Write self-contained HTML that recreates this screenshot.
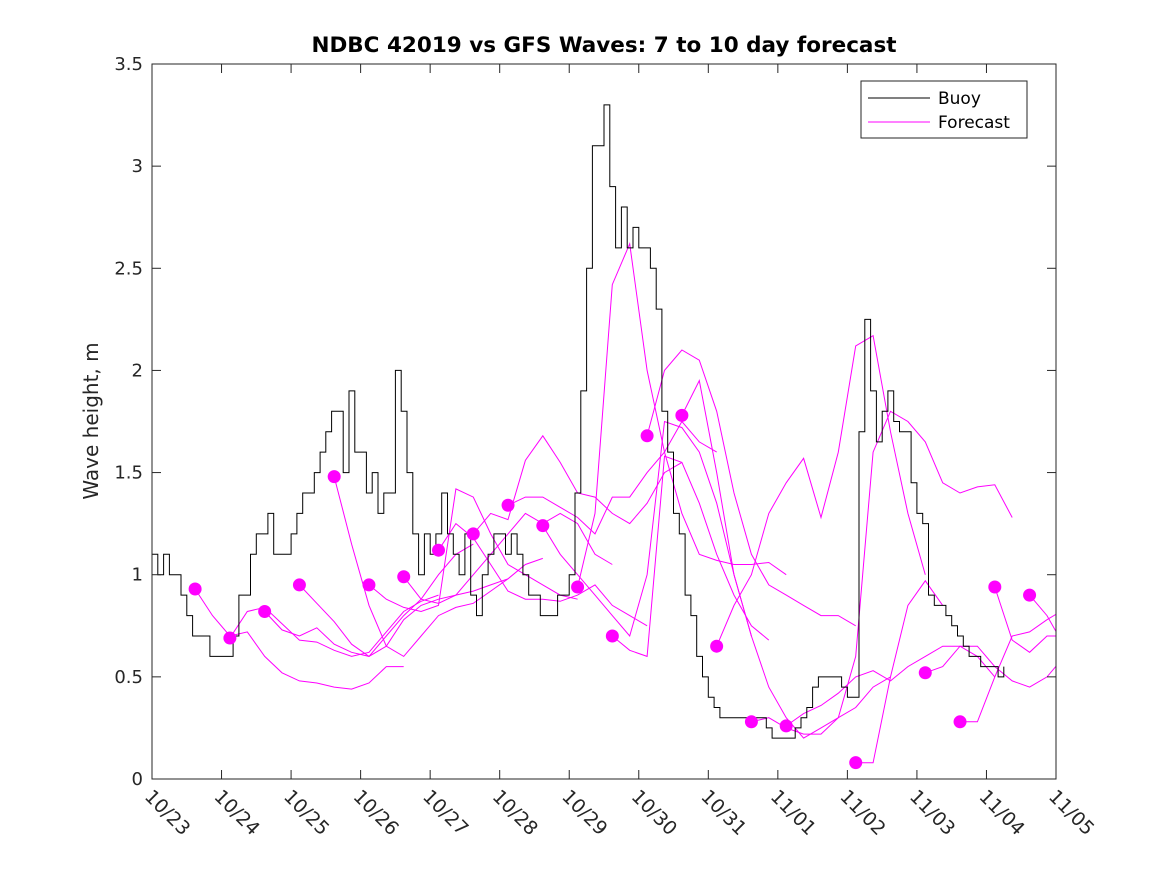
<!DOCTYPE html>
<html><head><meta charset="utf-8"><style>
html,body{margin:0;padding:0;background:#fff;}
svg{display:block;font-family:"DejaVu Sans","Liberation Sans",sans-serif;}
</style></head><body>
<svg id="chart" width="1167" height="875" viewBox="0 0 1167 875">
<rect x="0" y="0" width="1167" height="875" fill="#fff"/>
<text x="604" y="52" text-anchor="middle" font-size="21.5" font-weight="bold" fill="#000">NDBC 42019 vs GFS Waves: 7 to 10 day forecast</text>
<text transform="translate(98,421) rotate(-90)" text-anchor="middle" font-size="20" fill="#262626">Wave height, m</text>
<defs><clipPath id="pc"><rect x="152" y="64" width="904" height="715"/></clipPath></defs>
<g id="series" clip-path="url(#pc)"></g>
<g id="axes"></g>
<g>
<rect x="861" y="81" width="166" height="57" fill="#fff" stroke="#262626" stroke-width="1"/>
<line x1="868" y1="98" x2="930" y2="98" stroke="#000" stroke-width="1"/>
<text x="938" y="104" font-size="17" fill="#000">Buoy</text>
<line x1="868" y1="122" x2="930" y2="122" stroke="#ff00ff" stroke-width="1"/>
<text x="938" y="128" font-size="17" fill="#000">Forecast</text>
</g>
</svg>
<script>
const xTickLabels = ["10/23","10/24","10/25","10/26","10/27","10/28","10/29","10/30","10/31","11/01","11/02","11/03","11/04","11/05"];
const yTicks = [0,0.5,1,1.5,2,2.5,3,3.5];
const yTickLabels = ["0","0.5","1","1.5","2","2.5","3","3.5"];
// buoy readings every 2 hours from 10/23 00:00
const buoyStepHours = 2;
const buoyValues = [1.1,1.0,1.1,1.0,1.0,0.9,0.8,0.7,0.7,0.7,0.6,0.6,0.6,0.6,0.7,0.9,0.9,1.1,1.2,1.2,
1.3,1.1,1.1,1.1,1.2,1.3,1.4,1.4,1.5,1.6,1.7,1.8,1.8,1.5,1.9,1.6,1.6,1.4,1.5,1.3,
1.4,1.4,2.0,1.8,1.5,1.2,1.0,1.2,1.1,1.2,1.4,1.2,1.1,1.0,1.2,0.9,0.8,1.0,1.1,1.2,
1.2,1.1,1.2,1.1,1.0,0.9,0.9,0.8,0.8,0.8,0.9,0.9,1.0,1.4,1.9,2.5,3.1,3.1,3.3,2.9,
2.6,2.8,2.6,2.7,2.6,2.6,2.5,2.3,1.8,1.6,1.3,1.2,0.9,0.8,0.6,0.5,0.4,0.35,0.3,0.3,
0.3,0.3,0.3,0.3,0.3,0.3,0.25,0.2,0.2,0.2,0.2,0.25,0.3,0.35,0.45,0.5,0.5,0.5,0.5,0.45,
0.4,0.4,1.7,2.25,1.9,1.65,1.8,1.9,1.75,1.7,1.7,1.45,1.3,1.25,0.9,0.85,0.85,0.8,0.75,0.7,
0.65,0.6,0.6,0.55,0.55,0.55,0.5,0.55];
// forecasts: start day (days since 10/23) and 6-hourly values
const forecastStartDays = [0.62,1.12,1.62,2.12,2.62,3.12,3.62,4.12,4.62,5.12,5.62,6.12,6.62,7.12,7.62,8.12,8.62,9.12,10.12,11.12,11.62,12.12,12.62];
const forecastStepDays = 0.25;
const forecastValues = [
[0.93,0.80,0.70,0.72,0.60,0.52,0.48,0.47,0.45,0.44,0.47,0.55,0.55],
[0.69,0.82,0.84,0.76,0.68,0.67,0.63,0.60,0.62,0.72,0.82,0.87,0.90],
[0.82,0.73,0.70,0.74,0.66,0.62,0.60,0.70,0.80,0.88,1.0,1.1,1.15],
[0.95,0.86,0.77,0.66,0.60,0.65,0.78,0.85,0.88,0.9,0.92,0.95,0.98],
[1.48,1.15,0.85,0.65,0.60,0.70,0.80,0.84,0.86,0.92,0.98,1.05,1.08],
[0.95,0.88,0.84,0.82,0.85,1.42,1.38,1.2,1.05,1.0,0.95,0.9,0.88],
[0.99,0.88,0.86,0.90,1.0,1.1,1.2,1.3,1.25,1.3,1.25,1.1,1.05],
[1.12,1.25,1.18,1.05,0.92,0.88,0.88,0.87,0.90,0.95,0.85,0.80,0.75],
[1.20,1.30,1.27,1.56,1.68,1.55,1.40,1.38,1.30,1.25,1.35,1.50,1.55],
[1.34,1.38,1.38,1.33,1.28,1.20,1.38,1.38,1.50,1.60,1.75,1.65,1.60],
[1.24,1.10,1.00,0.90,0.80,0.70,1.0,1.75,1.72,1.60,1.35,1.0,0.7],
[0.94,1.3,2.42,2.62,2.0,1.6,1.3,1.1,1.07,1.05,1.05,1.06,1.0],
[0.70,0.63,0.60,1.58,1.55,1.35,1.1,0.9,0.75,0.68],
[1.68,2.0,2.1,2.05,1.8,1.4,1.1,0.95,0.9,0.85,0.8,0.8,0.75],
[1.78,1.95,1.5,1.0,0.7,0.45,0.3,0.2,0.25,0.3,0.35,0.45,0.5],
[0.65,0.85,1.0,1.3,1.45,1.57,1.28,1.6,2.12,2.17,1.7,1.3,1.0],
[0.28,0.30,0.25,0.22,0.22,0.30,0.6,1.6,1.8,1.75,1.65,1.45,1.40,1.43,1.44,1.28],
[0.26,0.32,0.36,0.42,0.50,0.53,0.48,0.55,0.60,0.65,0.65,0.60,0.50],
[0.08,0.08,0.5,0.85,0.97,0.85],
[0.52,0.55,0.65,0.65,0.55,0.48,0.45,0.50,0.60,0.70],
[0.28,0.28,0.50,0.70,0.72,0.78,0.83],
[0.94,0.68,0.62,0.70,0.70],
[0.90,0.80,0.65]
];

const NS="http://www.w3.org/2000/svg";
const X0=152,X1=1056,Y0=779,Y1=64,DAYS=13,YMAX=3.5;
function xScale(d){return X0+(X1-X0)*d/DAYS;}
function yScale(v){return Y0-(Y0-Y1)*v/YMAX;}
function mk(tag,attrs,parent){const e=document.createElementNS(NS,tag);for(const k in attrs)e.setAttribute(k,attrs[k]);parent.appendChild(e);return e;}
const series=document.getElementById('series'), axes=document.getElementById('axes');

forecastValues.forEach((vals,i)=>{
  const s=forecastStartDays[i];
  const pts=vals.map((v,j)=>xScale(s+j*forecastStepDays).toFixed(1)+","+yScale(v).toFixed(1)).join(" ");
  const pl=mk('polyline',{points:pts,fill:'none',stroke:'#ff00ff','stroke-width':1},series);
  
  
});
let bp=[];
buoyValues.forEach((v,i)=>{
  const x1=xScale(i*buoyStepHours/24), x2=xScale((i+1)*buoyStepHours/24);
  bp.push(x1.toFixed(1)+","+yScale(v).toFixed(1));
  if(i<buoyValues.length-1) bp.push(x2.toFixed(1)+","+yScale(v).toFixed(1));
});
const bl=mk('polyline',{points:bp.join(" "),fill:'none',stroke:'#000','stroke-width':1},series);


forecastValues.forEach((vals,i)=>{
  const c=mk('circle',{cx:xScale(forecastStartDays[i]),cy:yScale(vals[0]),r:6.5,fill:'#ff00ff'},series);
  
  
});

const box=mk('rect',{x:X0,y:Y1,width:X1-X0,height:Y0-Y1,fill:'none',stroke:'#262626','stroke-width':1},axes);


yTicks.forEach((v,i)=>{
  const y=yScale(v);
  mk('line',{x1:X0,y1:y,x2:X0+9,y2:y,stroke:'#262626'},axes);
  mk('line',{x1:X1,y1:y,x2:X1-9,y2:y,stroke:'#262626'},axes);
  const t=mk('text',{x:X0-9,y:y+6,'text-anchor':'end','font-size':18,fill:'#262626'},axes);
  t.textContent=yTickLabels[i];
  
  
});
xTickLabels.forEach((lab,i)=>{
  const x=xScale(i);
  mk('line',{x1:x,y1:Y0,x2:x,y2:Y0-9,stroke:'#262626'},axes);
  mk('line',{x1:x,y1:Y1,x2:x,y2:Y1+9,stroke:'#262626'},axes);
  const t=mk('text',{transform:`translate(${x+11},${Y0+38}) rotate(45)`,'text-anchor':'middle','font-size':19,fill:'#262626'},axes);
  t.textContent=lab;
  
  
});
</script>
</body></html>
